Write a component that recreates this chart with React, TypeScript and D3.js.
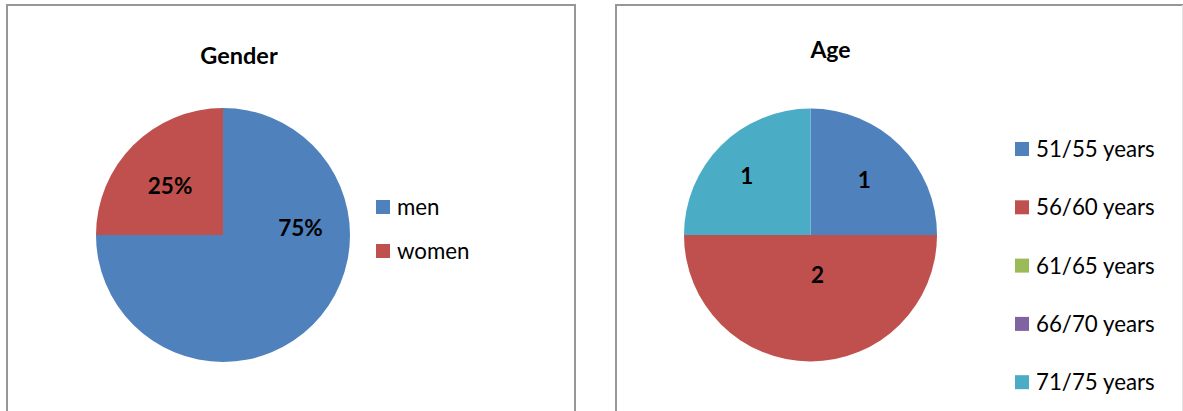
import React from "react";
import * as d3 from "d3";

const genderCategories = ["men", "women"];
const genderValues = [75, 25];
const genderLabels = ["75%", "25%"];

const ageCategories = ["51/55 years", "56/60 years", "61/65 years", "66/70 years", "71/75 years"];
const ageValues = [1, 2, 0, 0, 1];
const ageLabels = ["1", "2", "", "", "1"];

const colors = ["#4F81BD", "#C0504D", "#9BBB59", "#8064A2", "#4BACC6"];

// label placement hints (angle in degrees from 12 o'clock clockwise, radius fraction)
const genderLabelPlacement = [
  { angle: 84.5, r: 0.613 },
  { angle: 313, r: 0.57 },
];
const ageLabelPlacement = [
  { angle: 44.2, r: 0.61 },
  { angle: 170, r: 0.32 },
  null,
  null,
  { angle: 313, r: 0.69 },
];

const FONT = "Lato, Carlito, Calibri, sans-serif";

type PieProps = {
  cx: number;
  cy: number;
  radius: number;
  values: number[];
  labels: string[];
  placement: ({ angle: number; r: number } | null)[];
};

function Pie({ cx, cy, radius, values, labels, placement }: PieProps) {
  const pie = d3.pie<number>().sort(null).value((d) => d);
  const arcs = pie(values);
  const arc = d3.arc<d3.PieArcDatum<number>>().innerRadius(0).outerRadius(radius);
  return (
    <g transform={`translate(${cx},${cy})`}>
      {arcs.map((a, i) =>
        a.value > 0 ? <path key={i} d={arc(a) || ""} fill={colors[i]} /> : null
      )}
      {arcs.map((a, i) => {
        const p = placement[i];
        if (!p || !labels[i]) return null;
        const ang = (p.angle * Math.PI) / 180;
        const x = Math.sin(ang) * p.r * radius;
        const y = -Math.cos(ang) * p.r * radius;
        return (
          <text
            key={"l" + i}
            x={x}
            y={y}
            dy="0.36em"
            textAnchor="middle"
            fontFamily={FONT}
            fontWeight="bold"
            fontSize={22.5}
            fill="#000"
          >
            {labels[i]}
          </text>
        );
      })}
    </g>
  );
}

type LegendProps = {
  x: number;
  y0: number;
  step: number;
  items: string[];
};

function Legend({ x, y0, step, items }: LegendProps) {
  return (
    <g>
      {items.map((name, i) => {
        const cy = y0 + i * step;
        return (
          <g key={name}>
            <rect x={x} y={cy - 7} width={14} height={14} fill={colors[i]} />
            <text
              x={x + 21}
              y={cy}
              dy="0.36em"
              fontFamily={FONT}
              fontSize={22.3}
              fill="#000"
            >
              {name}
            </text>
          </g>
        );
      })}
    </g>
  );
}

export default function App() {
  const W = 1183;
  const H = 411;
  return (
    <svg
      width={W}
      height={H}
      style={{ position: "absolute", left: 0, top: 0, background: "#fff" }}
    >
      <rect x={0} y={0} width={W} height={H} fill="#fff" />
      {/* panels */}
      <path d="M7,420 V5 H575 V420" fill="none" stroke="#979797" strokeWidth={2} />
      <path d="M616,420 V5 H1183" fill="none" stroke="#979797" strokeWidth={2} />
      <line x1={1182.5} y1={5} x2={1182.5} y2={420} stroke="#e2e2e2" strokeWidth={1} />

      {/* Gender */}
      <text
        x={239}
        y={64}
        textAnchor="middle"
        fontFamily={FONT}
        fontWeight="bold"
        fontSize={23.5}
        fill="#000"
      >
        Gender
      </text>
      <Pie
        cx={223}
        cy={235}
        radius={127}
        values={genderValues}
        labels={genderLabels}
        placement={genderLabelPlacement}
      />
      <Legend x={376} y0={207} step={44} items={genderCategories} />

      {/* Age */}
      <text
        x={830.5}
        y={57.5}
        textAnchor="middle"
        fontFamily={FONT}
        fontWeight="bold"
        fontSize={23}
        fill="#000"
      >
        Age
      </text>
      <Pie
        cx={810.5}
        cy={235}
        radius={126.5}
        values={ageValues}
        labels={ageLabels}
        placement={ageLabelPlacement}
      />
      <Legend x={1015} y0={149} step={58.3} items={ageCategories} />
    </svg>
  );
}
